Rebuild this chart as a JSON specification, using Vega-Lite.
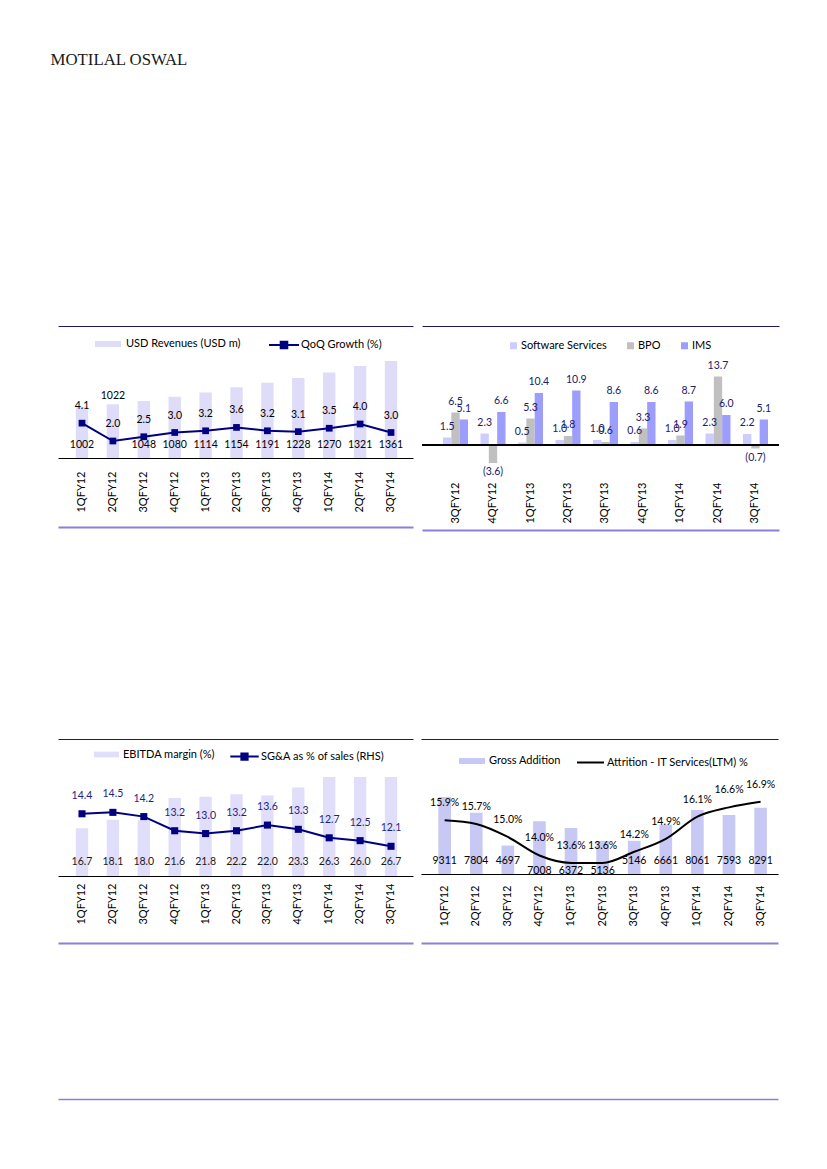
{
  "$schema": "https://vega.github.io/schema/vega-lite/v6.json",
  "padding": {"left": 48, "top": 52, "right": 10, "bottom": 10},
  "background": "white",
  "title": {"text": "MOTILAL OSWAL", "anchor": "start", "dx": 2, "offset": 257, "font": "Liberation Serif", "fontSize": 16.8, "fontWeight": "normal", "color": "#1a1a1a"},
  "datasets": {
    "rev": [
      {"q": "1QFY12", "rev": 1002, "qoq": 4.1},
      {"q": "2QFY12", "rev": 1022, "qoq": 2.0},
      {"q": "3QFY12", "rev": 1048, "qoq": 2.5},
      {"q": "4QFY12", "rev": 1080, "qoq": 3.0},
      {"q": "1QFY13", "rev": 1114, "qoq": 3.2},
      {"q": "2QFY13", "rev": 1154, "qoq": 3.6},
      {"q": "3QFY13", "rev": 1191, "qoq": 3.2},
      {"q": "4QFY13", "rev": 1228, "qoq": 3.1},
      {"q": "1QFY14", "rev": 1270, "qoq": 3.5},
      {"q": "2QFY14", "rev": 1321, "qoq": 4.0},
      {"q": "3QFY14", "rev": 1361, "qoq": 3.0}
    ],
    "seg": [
      {"q": "3QFY12", "seg": "Software Services", "v": 1.5},
      {"q": "3QFY12", "seg": "BPO", "v": 6.5},
      {"q": "3QFY12", "seg": "IMS", "v": 5.1},
      {"q": "4QFY12", "seg": "Software Services", "v": 2.3},
      {"q": "4QFY12", "seg": "BPO", "v": -3.6},
      {"q": "4QFY12", "seg": "IMS", "v": 6.6},
      {"q": "1QFY13", "seg": "Software Services", "v": 0.5},
      {"q": "1QFY13", "seg": "BPO", "v": 5.3},
      {"q": "1QFY13", "seg": "IMS", "v": 10.4},
      {"q": "2QFY13", "seg": "Software Services", "v": 1.0},
      {"q": "2QFY13", "seg": "BPO", "v": 1.8},
      {"q": "2QFY13", "seg": "IMS", "v": 10.9},
      {"q": "3QFY13", "seg": "Software Services", "v": 1.0},
      {"q": "3QFY13", "seg": "BPO", "v": 0.6},
      {"q": "3QFY13", "seg": "IMS", "v": 8.6},
      {"q": "4QFY13", "seg": "Software Services", "v": 0.6},
      {"q": "4QFY13", "seg": "BPO", "v": 3.3},
      {"q": "4QFY13", "seg": "IMS", "v": 8.6},
      {"q": "1QFY14", "seg": "Software Services", "v": 1.0},
      {"q": "1QFY14", "seg": "BPO", "v": 1.9},
      {"q": "1QFY14", "seg": "IMS", "v": 8.7},
      {"q": "2QFY14", "seg": "Software Services", "v": 2.3},
      {"q": "2QFY14", "seg": "BPO", "v": 13.7},
      {"q": "2QFY14", "seg": "IMS", "v": 6.0},
      {"q": "3QFY14", "seg": "Software Services", "v": 2.2},
      {"q": "3QFY14", "seg": "BPO", "v": -0.7},
      {"q": "3QFY14", "seg": "IMS", "v": 5.1}
    ],
    "margin": [
      {"q": "1QFY12", "ebitda": 16.7, "sga": 14.4},
      {"q": "2QFY12", "ebitda": 18.1, "sga": 14.5},
      {"q": "3QFY12", "ebitda": 18.0, "sga": 14.2},
      {"q": "4QFY12", "ebitda": 21.6, "sga": 13.2},
      {"q": "1QFY13", "ebitda": 21.8, "sga": 13.0},
      {"q": "2QFY13", "ebitda": 22.2, "sga": 13.2},
      {"q": "3QFY13", "ebitda": 22.0, "sga": 13.6},
      {"q": "4QFY13", "ebitda": 23.3, "sga": 13.3},
      {"q": "1QFY14", "ebitda": 26.3, "sga": 12.7},
      {"q": "2QFY14", "ebitda": 26.0, "sga": 12.5},
      {"q": "3QFY14", "ebitda": 26.7, "sga": 12.1}
    ],
    "people": [
      {"q": "1QFY12", "gross": 9311, "attr": 0.159},
      {"q": "2QFY12", "gross": 7804, "attr": 0.157},
      {"q": "3QFY12", "gross": 4697, "attr": 0.150},
      {"q": "4QFY12", "gross": 7008, "attr": 0.140},
      {"q": "1QFY13", "gross": 6372, "attr": 0.136},
      {"q": "2QFY13", "gross": 5136, "attr": 0.136},
      {"q": "3QFY13", "gross": 5146, "attr": 0.142},
      {"q": "4QFY13", "gross": 6661, "attr": 0.149},
      {"q": "1QFY14", "gross": 8061, "attr": 0.161},
      {"q": "2QFY14", "gross": 7593, "attr": 0.166},
      {"q": "3QFY14", "gross": 8291, "attr": 0.169}
    ],
    "footer": [{"a": 0}]
  },
  "spacing": 209,
  "resolve": {"scale": {"fill": "independent", "color": "independent", "stroke": "independent"}},
  "vconcat": [
    {
      "spacing": 8,
      "resolve": {"scale": {"fill": "independent", "color": "independent", "stroke": "independent"}},
      "hconcat": [
        {
          "width": 355, "height": 102,
          "data": {"name": "rev"},
          "layer": [
            {"layer": [
              {"mark": {"type": "bar", "clip": true},
               "encoding": {
                 "x": {"field": "q", "type": "nominal", "scale": {"domain": ["1QFY12","2QFY12","3QFY12","4QFY12","1QFY13","2QFY13","3QFY13","4QFY13","1QFY14","2QFY14","3QFY14"], "paddingInner": 0.6, "paddingOuter": 0.544, "align": 0.53}, "axis": {"orient": "bottom", "title": null, "labelAngle": -90, "labelPadding": 13, "labelFontSize": 11, "labelColor": "#000", "labelOverlap": false, "ticks": false, "grid": false, "domain": true, "domainColor": "#000", "domainWidth": 1}},
                 "y": {"field": "rev", "type": "quantitative", "scale": {"domain": [600, 1400]}, "axis": {"orient": "left", "title": null, "labels": false, "ticks": false, "grid": false, "domain": true, "domainColor": "transparent", "offset": 9.5}},
                 "fill": {"datum": "USD Revenues (USD m)", "scale": {"range": ["#dedcf8"]}, "legend": {"orient": "none", "legendX": 37, "legendY": -25, "title": null, "symbolType": "M-1,-0.23H1V0.23H-1Z", "symbolSize": 676, "symbolStrokeWidth": 0, "labelOffset": 5}}
               }},
              {"transform": [{"filter": "datum.q != '2QFY12'"}],
               "mark": {"type": "text", "dy": -13},
               "encoding": {
                 "x": {"field": "q", "type": "nominal", "scale": {"domain": ["1QFY12","2QFY12","3QFY12","4QFY12","1QFY13","2QFY13","3QFY13","4QFY13","1QFY14","2QFY14","3QFY14"], "paddingInner": 0.6, "paddingOuter": 0.544, "align": 0.53}, "axis": {"orient": "bottom", "title": null, "labelAngle": -90, "labelPadding": 13, "labelFontSize": 11, "labelColor": "#000", "labelOverlap": false, "ticks": false, "grid": false, "domain": true, "domainColor": "#000", "domainWidth": 1}},
                 "y": {"datum": 600, "scale": {"domain": [600, 1400]}, "axis": {"orient": "left", "title": null, "labels": false, "ticks": false, "grid": false, "domain": true, "domainColor": "transparent", "offset": 9.5}},
                 "text": {"field": "rev", "type": "quantitative", "format": "d"}
               }},
              {"transform": [{"filter": "datum.q == '2QFY12'"}],
               "mark": {"type": "text", "dy": -8},
               "encoding": {
                 "x": {"field": "q", "type": "nominal", "scale": {"domain": ["1QFY12","2QFY12","3QFY12","4QFY12","1QFY13","2QFY13","3QFY13","4QFY13","1QFY14","2QFY14","3QFY14"], "paddingInner": 0.6, "paddingOuter": 0.544, "align": 0.53}, "axis": {"orient": "bottom", "title": null, "labelAngle": -90, "labelPadding": 13, "labelFontSize": 11, "labelColor": "#000", "labelOverlap": false, "ticks": false, "grid": false, "domain": true, "domainColor": "#000", "domainWidth": 1}},
                 "y": {"field": "rev", "type": "quantitative", "scale": {"domain": [600, 1400]}, "axis": {"orient": "left", "title": null, "labels": false, "ticks": false, "grid": false, "domain": true, "domainColor": "transparent", "offset": 9.5}},
                 "text": {"field": "rev", "type": "quantitative", "format": "d"}
               }}
            ]},
            {"layer": [
              {"mark": {"type": "line", "strokeWidth": 2, "color": "#000080"},
               "encoding": {
                 "x": {"field": "q", "type": "nominal", "scale": {"domain": ["1QFY12","2QFY12","3QFY12","4QFY12","1QFY13","2QFY13","3QFY13","4QFY13","1QFY14","2QFY14","3QFY14"], "paddingInner": 0.6, "paddingOuter": 0.544, "align": 0.53}, "axis": {"orient": "bottom", "title": null, "offset": 69, "labels": false, "ticks": false, "grid": false, "domain": true, "domainColor": "#8a80dc", "domainWidth": 2}},
                 "y": {"field": "qoq", "type": "quantitative", "scale": {"domain": [0, 12]}, "axis": null}
               }},
              {"mark": {"type": "point", "shape": "square", "filled": true, "size": 45, "opacity": 1},
               "encoding": {
                 "x": {"field": "q", "type": "nominal", "scale": {"domain": ["1QFY12","2QFY12","3QFY12","4QFY12","1QFY13","2QFY13","3QFY13","4QFY13","1QFY14","2QFY14","3QFY14"], "paddingInner": 0.6, "paddingOuter": 0.544, "align": 0.53}, "axis": {"orient": "bottom", "title": null, "offset": 69, "labels": false, "ticks": false, "grid": false, "domain": true, "domainColor": "#8a80dc", "domainWidth": 2}},
                 "y": {"field": "qoq", "type": "quantitative", "scale": {"domain": [0, 12]}, "axis": null},
                 "color": {"datum": "QoQ Growth (%)", "scale": {"range": ["#000080"]}, "legend": {"orient": "none", "legendX": 210, "legendY": -27, "title": null, "symbolType": "M-1,0H1M-0.22,-0.22H0.22V0.22H-0.22Z", "symbolSize": 900, "symbolStrokeColor": "#000080", "symbolStrokeWidth": 2, "labelOffset": 1}}
               }}
            ]},
            {"mark": {"type": "text", "dy": -17},
             "encoding": {
               "x": {"field": "q", "type": "nominal", "scale": {"domain": ["1QFY12","2QFY12","3QFY12","4QFY12","1QFY13","2QFY13","3QFY13","4QFY13","1QFY14","2QFY14","3QFY14"], "paddingInner": 0.6, "paddingOuter": 0.544, "align": 0.53}, "axis": {"orient": "top", "title": null, "offset": 30, "labels": false, "ticks": false, "grid": false, "domain": true, "domainColor": "#1e1666", "domainWidth": 1}},
               "y": {"field": "qoq", "type": "quantitative", "scale": {"domain": [0, 12]}, "axis": null},
               "text": {"field": "qoq", "type": "quantitative", "format": ".1f"}
             }}
          ],
          "resolve": {"scale": {"y": "independent"}, "axis": {"x": "independent", "y": "independent"}}
        },
        {
          "width": 357, "height": 114,
          "data": {"name": "seg"},
          "layer": [
            {"layer": [
              {"mark": "bar",
               "encoding": {
                 "x": {"field": "q", "type": "nominal", "scale": {"domain": ["3QFY12","4QFY12","1QFY13","2QFY13","3QFY13","4QFY13","1QFY14","2QFY14","3QFY14"], "paddingInner": 0.333, "paddingOuter": 0.427, "align": 0.656}, "axis": {"orient": "bottom", "title": null, "labelAngle": -90, "labelPadding": 12, "labelFontSize": 11, "labelColor": "#000", "labelOverlap": false, "ticks": false, "grid": false, "domain": false}},
                 "xOffset": {"field": "seg", "type": "nominal", "scale": {"domain": ["Software Services", "BPO", "IMS"], "paddingInner": 0, "paddingOuter": 0}},
                 "y": {"field": "v", "type": "quantitative", "scale": {"domain": [-5, 17.8]}, "axis": null},
                 "fill": {"field": "seg", "type": "nominal", "scale": {"domain": ["Software Services", "BPO", "IMS"], "range": ["#ccccff", "#c0c0c0", "#9d9dfc"]}, "legend": {"orient": "none", "legendX": 86, "legendY": -16, "direction": "horizontal", "columns": 3, "columnPadding": 18, "title": null, "symbolType": "square", "symbolSize": 49, "symbolStrokeWidth": 0, "labelOffset": 2}}
               }},
              {"mark": {"type": "rule", "color": "#000", "strokeWidth": 1},
               "encoding": {"y": {"datum": 0, "scale": {"domain": [-5, 17.8]}, "axis": null}}}
            ]},
            {"transform": [{"filter": "datum.v < 0"}],
             "mark": {"type": "text", "dy": 9, "color": "#20206a"},
             "encoding": {
               "x": {"field": "q", "type": "nominal", "scale": {"domain": ["3QFY12","4QFY12","1QFY13","2QFY13","3QFY13","4QFY13","1QFY14","2QFY14","3QFY14"], "paddingInner": 0.333, "paddingOuter": 0.427, "align": 0.656}, "axis": {"orient": "bottom", "title": null, "offset": 60, "labels": false, "ticks": false, "grid": false, "domain": true, "domainColor": "#8a80dc", "domainWidth": 2}},
               "xOffset": {"field": "seg", "type": "nominal", "scale": {"domain": ["Software Services", "BPO", "IMS"], "paddingInner": 0, "paddingOuter": 0}},
               "y": {"field": "v", "type": "quantitative", "scale": {"domain": [-5, 17.8]}, "axis": null},
               "text": {"field": "v", "type": "quantitative", "format": "(.1f"}
             }},
            {"transform": [{"filter": "datum.v >= 0"}],
             "mark": {"type": "text", "dy": -11, "color": "#20206a"},
             "encoding": {
               "x": {"field": "q", "type": "nominal", "scale": {"domain": ["3QFY12","4QFY12","1QFY13","2QFY13","3QFY13","4QFY13","1QFY14","2QFY14","3QFY14"], "paddingInner": 0.333, "paddingOuter": 0.427, "align": 0.656}, "axis": {"orient": "top", "title": null, "offset": 30, "labels": false, "ticks": false, "grid": false, "domain": true, "domainColor": "#1e1666", "domainWidth": 1}},
               "xOffset": {"field": "seg", "type": "nominal", "scale": {"domain": ["Software Services", "BPO", "IMS"], "paddingInner": 0, "paddingOuter": 0}},
               "y": {"field": "v", "type": "quantitative", "scale": {"domain": [-5, 17.8]}, "axis": null},
               "text": {"field": "v", "type": "quantitative", "format": "(.1f"}
             }}
          ],
          "resolve": {"scale": {"y": "independent"}, "axis": {"x": "independent", "y": "independent"}}
        }
      ]
    },
    {
      "spacing": 156,
      "resolve": {"scale": {"fill": "independent", "color": "independent", "stroke": "independent"}},
      "vconcat": [
        {
          "spacing": 8,
          "resolve": {"scale": {"fill": "independent", "color": "independent", "stroke": "independent"}},
          "hconcat": [
            {
              "width": 355, "height": 99,
              "data": {"name": "margin"},
              "layer": [
                {"layer": [
                  {"mark": {"type": "bar", "clip": true},
                   "encoding": {
                     "x": {"field": "q", "type": "nominal", "scale": {"domain": ["1QFY12","2QFY12","3QFY12","4QFY12","1QFY13","2QFY13","3QFY13","4QFY13","1QFY14","2QFY14","3QFY14"], "paddingInner": 0.6, "paddingOuter": 0.544, "align": 0.53}, "axis": {"orient": "bottom", "title": null, "labelAngle": -90, "labelPadding": 7, "labelFontSize": 11, "labelColor": "#000", "labelOverlap": false, "ticks": false, "grid": false, "domain": true, "domainColor": "#000", "domainWidth": 1}},
                     "y": {"field": "ebitda", "type": "quantitative", "scale": {"domain": [9, 25]}, "axis": {"orient": "left", "title": null, "labels": false, "ticks": false, "grid": false, "domain": true, "domainColor": "transparent", "offset": 9.5}},
                     "fill": {"datum": "EBITDA margin (%)", "scale": {"range": ["#e0defa"]}, "legend": {"orient": "none", "legendX": 36, "legendY": -35, "title": null, "symbolType": "M-1,-0.23H1V0.23H-1Z", "symbolSize": 625, "symbolStrokeWidth": 0, "labelOffset": 4}}
                   }},
                  {"mark": {"type": "text", "dy": -14, "color": "#1a1a1a"},
                   "encoding": {
                     "x": {"field": "q", "type": "nominal", "scale": {"domain": ["1QFY12","2QFY12","3QFY12","4QFY12","1QFY13","2QFY13","3QFY13","4QFY13","1QFY14","2QFY14","3QFY14"], "paddingInner": 0.6, "paddingOuter": 0.544, "align": 0.53}, "axis": {"orient": "bottom", "title": null, "labelAngle": -90, "labelPadding": 7, "labelFontSize": 11, "labelColor": "#000", "labelOverlap": false, "ticks": false, "grid": false, "domain": true, "domainColor": "#000", "domainWidth": 1}},
                     "y": {"datum": 9, "scale": {"domain": [9, 25]}, "axis": {"orient": "left", "title": null, "labels": false, "ticks": false, "grid": false, "domain": true, "domainColor": "transparent", "offset": 9.5}},
                     "text": {"field": "ebitda", "type": "quantitative", "format": ".1f"}
                   }}
                ]},
                {"layer": [
                  {"mark": {"type": "line", "strokeWidth": 2, "color": "#000080"},
                   "encoding": {
                     "x": {"field": "q", "type": "nominal", "scale": {"domain": ["1QFY12","2QFY12","3QFY12","4QFY12","1QFY13","2QFY13","3QFY13","4QFY13","1QFY14","2QFY14","3QFY14"], "paddingInner": 0.6, "paddingOuter": 0.544, "align": 0.53}, "axis": {"orient": "bottom", "title": null, "offset": 67, "labels": false, "ticks": false, "grid": false, "domain": true, "domainColor": "#8a80dc", "domainWidth": 2}},
                     "y": {"field": "sga", "type": "quantitative", "scale": {"domain": [10, 17]}, "axis": null}
                   }},
                  {"mark": {"type": "point", "shape": "square", "filled": true, "size": 50, "opacity": 1},
                   "encoding": {
                     "x": {"field": "q", "type": "nominal", "scale": {"domain": ["1QFY12","2QFY12","3QFY12","4QFY12","1QFY13","2QFY13","3QFY13","4QFY13","1QFY14","2QFY14","3QFY14"], "paddingInner": 0.6, "paddingOuter": 0.544, "align": 0.53}, "axis": {"orient": "bottom", "title": null, "offset": 67, "labels": false, "ticks": false, "grid": false, "domain": true, "domainColor": "#8a80dc", "domainWidth": 2}},
                     "y": {"field": "sga", "type": "quantitative", "scale": {"domain": [10, 17]}, "axis": null},
                     "color": {"datum": "SG&A as % of sales (RHS)", "scale": {"range": ["#000080"]}, "legend": {"orient": "none", "legendX": 171, "legendY": -36, "title": null, "symbolType": "M-1,0H1M-0.22,-0.22H0.22V0.22H-0.22Z", "symbolSize": 807, "symbolStrokeColor": "#000080", "symbolStrokeWidth": 2, "labelOffset": 1}}
                   }}
                ]},
                {"mark": {"type": "text", "dy": -18, "color": "#1f1f80"},
                 "encoding": {
                   "x": {"field": "q", "type": "nominal", "scale": {"domain": ["1QFY12","2QFY12","3QFY12","4QFY12","1QFY13","2QFY13","3QFY13","4QFY13","1QFY14","2QFY14","3QFY14"], "paddingInner": 0.6, "paddingOuter": 0.544, "align": 0.53}, "axis": {"orient": "top", "title": null, "offset": 38, "labels": false, "ticks": false, "grid": false, "domain": true, "domainColor": "#1e1666", "domainWidth": 1}},
                   "y": {"field": "sga", "type": "quantitative", "scale": {"domain": [10, 17]}, "axis": null},
                   "text": {"field": "sga", "type": "quantitative", "format": ".1f"}
                 }}
              ],
              "resolve": {"scale": {"y": "independent"}, "axis": {"x": "independent", "y": "independent"}}
            },
            {
              "width": 357, "height": 97,
              "data": {"name": "people"},
              "layer": [
                {"layer": [
                  {"mark": {"type": "bar", "clip": true},
                   "encoding": {
                     "x": {"field": "q", "type": "nominal", "scale": {"domain": ["1QFY12","2QFY12","3QFY12","4QFY12","1QFY13","2QFY13","3QFY13","4QFY13","1QFY14","2QFY14","3QFY14"], "paddingInner": 0.6, "paddingOuter": 0.45, "align": 0.61}, "axis": {"orient": "bottom", "title": null, "labelAngle": -90, "labelPadding": 11, "labelFontSize": 11, "labelColor": "#000", "labelOverlap": false, "ticks": false, "grid": false, "domain": true, "domainColor": "#000", "domainWidth": 1}},
                     "y": {"field": "gross", "type": "quantitative", "scale": {"domain": [2000, 11200]}, "axis": null},
                     "fill": {"datum": "Gross Addition", "scale": {"range": ["#c8c8f4"]}, "legend": {"orient": "none", "legendX": 38, "legendY": -29, "title": null, "symbolType": "M-1,-0.23H1V0.23H-1Z", "symbolSize": 676, "symbolStrokeWidth": 0, "labelOffset": 4}}
                   }},
                  {"transform": [{"filter": "datum.q != '4QFY12' && datum.q != '1QFY13' && datum.q != '2QFY13'"}],
                   "mark": {"type": "text", "dy": -13},
                   "encoding": {
                     "x": {"field": "q", "type": "nominal", "scale": {"domain": ["1QFY12","2QFY12","3QFY12","4QFY12","1QFY13","2QFY13","3QFY13","4QFY13","1QFY14","2QFY14","3QFY14"], "paddingInner": 0.6, "paddingOuter": 0.45, "align": 0.61}, "axis": {"orient": "bottom", "title": null, "labelAngle": -90, "labelPadding": 11, "labelFontSize": 11, "labelColor": "#000", "labelOverlap": false, "ticks": false, "grid": false, "domain": true, "domainColor": "#000", "domainWidth": 1}},
                     "y": {"datum": 2000, "scale": {"domain": [2000, 11200]}, "axis": null},
                     "text": {"field": "gross", "type": "quantitative", "format": "d"}
                   }},
                  {"transform": [{"filter": "datum.q == '4QFY12' || datum.q == '1QFY13' || datum.q == '2QFY13'"}],
                   "mark": {"type": "text", "dy": -3},
                   "encoding": {
                     "x": {"field": "q", "type": "nominal", "scale": {"domain": ["1QFY12","2QFY12","3QFY12","4QFY12","1QFY13","2QFY13","3QFY13","4QFY13","1QFY14","2QFY14","3QFY14"], "paddingInner": 0.6, "paddingOuter": 0.45, "align": 0.61}, "axis": {"orient": "bottom", "title": null, "labelAngle": -90, "labelPadding": 11, "labelFontSize": 11, "labelColor": "#000", "labelOverlap": false, "ticks": false, "grid": false, "domain": true, "domainColor": "#000", "domainWidth": 1}},
                     "y": {"datum": 2000, "scale": {"domain": [2000, 11200]}, "axis": null},
                     "text": {"field": "gross", "type": "quantitative", "format": "d"}
                   }}
                ]},
                {"mark": {"type": "line", "strokeWidth": 2, "interpolate": "monotone"},
                 "encoding": {
                   "x": {"field": "q", "type": "nominal", "scale": {"domain": ["1QFY12","2QFY12","3QFY12","4QFY12","1QFY13","2QFY13","3QFY13","4QFY13","1QFY14","2QFY14","3QFY14"], "paddingInner": 0.6, "paddingOuter": 0.45, "align": 0.61}, "axis": {"orient": "bottom", "title": null, "offset": 69, "labels": false, "ticks": false, "grid": false, "domain": true, "domainColor": "#8a80dc", "domainWidth": 2}},
                   "y": {"field": "attr", "type": "quantitative", "scale": {"domain": [0.13, 0.1824]}, "axis": null},
                   "stroke": {"datum": "Attrition - IT Services(LTM) %", "scale": {"range": ["#000000"]}, "legend": {"orient": "none", "legendX": 155, "legendY": -29, "title": null, "symbolType": "M-1,0H1", "symbolSize": 729, "symbolStrokeWidth": 2, "labelOffset": 2}}
                 }},
                {"mark": {"type": "text", "dy": -17},
                 "encoding": {
                   "x": {"field": "q", "type": "nominal", "scale": {"domain": ["1QFY12","2QFY12","3QFY12","4QFY12","1QFY13","2QFY13","3QFY13","4QFY13","1QFY14","2QFY14","3QFY14"], "paddingInner": 0.6, "paddingOuter": 0.45, "align": 0.61}, "axis": {"orient": "top", "title": null, "offset": 38, "labels": false, "ticks": false, "grid": false, "domain": true, "domainColor": "#1e1666", "domainWidth": 1}},
                   "y": {"field": "attr", "type": "quantitative", "scale": {"domain": [0.13, 0.1824]}, "axis": null},
                   "text": {"field": "attr", "type": "quantitative", "format": ".1%"}
                 }}
              ],
              "resolve": {"scale": {"y": "independent"}, "axis": {"x": "independent", "y": "independent"}}
            }
          ]
        },
        {
          "width": 720, "height": 1,
          "data": {"name": "footer"},
          "mark": {"type": "point", "opacity": 0, "size": 0},
          "encoding": {
            "x": {"field": "a", "type": "quantitative", "scale": {"domain": [0, 1]}, "axis": {"orient": "top", "title": null, "labels": false, "ticks": false, "grid": false, "domain": true, "domainColor": "#8a80dc", "domainWidth": 1.5}}
          }
        }
      ]
    }
  ],
  "config": {
    "view": {"stroke": null},
    "font": "Lato",
    "axis": {"labelFont": "Lato", "grid": false},
    "legend": {"labelFont": "Lato", "labelFontSize": 11, "labelColor": "#000", "padding": 0},
    "text": {"font": "Lato", "fontSize": 10.5, "color": "#000"}
  }
}
